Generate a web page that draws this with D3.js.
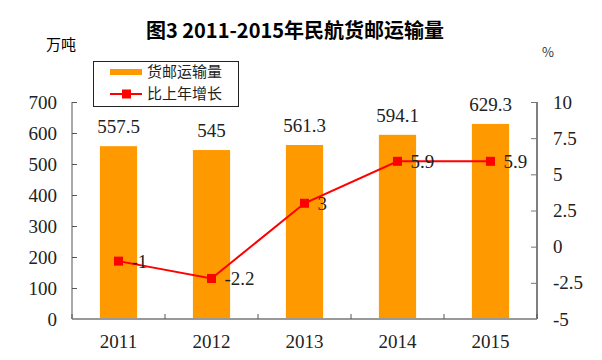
<!DOCTYPE html>
<html><head><meta charset="utf-8">
<script src="https://cdn.jsdelivr.net/npm/d3@7"></script>
<style>body{margin:0;background:#fff}svg{display:block}</style>
</head><body>
<script>
const categories = ["2011","2012","2013","2014","2015"];
const cargo = [557.5, 545, 561.3, 594.1, 629.3];
const growth = [-1, -2.2, 3, 5.9, 5.9];
const leftTicks = [0,100,200,300,400,500,600,700];
const rightTicks = [-5,-2.5,0,2.5,5,7.5,10];
const title = "图3 2011-2015年民航货邮运输量";
const seriesNames = ["货邮运输量","比上年增长"];

const W = 602, H = 360;
const M = {left:72, right:537, top:102, bottom:319};
const numFont = "'Liberation Serif','DejaVu Serif',serif";
const cjkFont = "'Noto Sans CJK SC','Noto Sans',sans-serif";

const svg = d3.select("body").append("svg").attr("width",W).attr("height",H);

const x = d3.scaleBand().domain(categories).range([M.left, M.right]).padding(0);
const yL = d3.scaleLinear().domain([0,700]).range([M.bottom, M.top]);
const yR = d3.scaleLinear().domain([-5,10]).range([M.bottom, M.top]);

// title
svg.append("text").attr("x",295).attr("y",38).attr("text-anchor","middle")
  .attr("font-family",cjkFont).attr("font-weight","bold").attr("font-size",20).attr("fill","#000")
  .text(title);
svg.append("text").attr("x",46).attr("y",50).attr("font-family",cjkFont).attr("font-size",15).text("万吨");
svg.append("text").attr("x",542).attr("y",57).attr("font-family",cjkFont).attr("font-size",13).attr("fill","#333").text("%");

// bars
const bw = x.bandwidth()*0.4;
svg.append("g").selectAll("rect").data(cargo).join("rect")
  .attr("x",(d,i)=>x(categories[i])+x.bandwidth()/2-bw/2)
  .attr("y",d=>yL(d)).attr("width",bw).attr("height",d=>yL(0)-yL(d))
  .attr("fill","#ff9900");

svg.append("g").selectAll("text").data(cargo).join("text")
  .attr("x",(d,i)=>x(categories[i])+x.bandwidth()/2)
  .attr("y",d=>yL(d)-13).attr("text-anchor","middle")
  .attr("font-family",numFont).attr("font-size",19).attr("fill","#222")
  .text(d=>String(d));

// left axis
const axL = svg.append("g").attr("transform",`translate(${M.left},0)`)
  .call(d3.axisLeft(yL).tickValues(leftTicks).tickSize(-5).tickPadding(15).tickFormat(d=>String(d)));
axL.select(".domain").attr("stroke","#555").attr("d",`M0,${M.top}V${M.bottom}`);
axL.selectAll(".tick line").attr("stroke","#555");
axL.selectAll("text").attr("font-family",numFont).attr("font-size",19).attr("fill","#222");

// right axis
const axR = svg.append("g").attr("transform",`translate(${M.right},0)`)
  .call(d3.axisRight(yR).tickValues(rightTicks).tickSize(-6).tickPadding(16).tickFormat(d=>String(d)));
axR.select(".domain").attr("stroke","#000").attr("d",`M0,${M.top}V${M.bottom}`);
axR.selectAll(".tick line").attr("stroke","#777");
axR.selectAll("text").attr("font-family",numFont).attr("font-size",19).attr("fill","#222");

// bottom axis
const axB = svg.append("g").attr("transform",`translate(0,${M.bottom})`)
  .call(d3.axisBottom(x).tickSize(0).tickPadding(16));
axB.select(".domain").attr("stroke","#999").attr("stroke-width",2).attr("d",`M${M.left},0H${M.right}`);
axB.selectAll("text").attr("font-family",numFont).attr("font-size",19).attr("fill","#222");
const bounds = categories.map(c=>x(c)).concat([x.range()[1]]);
axB.append("g").selectAll("line").data(bounds).join("line")
  .attr("x1",d=>d).attr("x2",d=>d).attr("y1",0).attr("y2",-5).attr("stroke","#555");

// line
const line = d3.line().x((d,i)=>x(categories[i])+x.bandwidth()/2).y(d=>yR(d));
svg.append("path").datum(growth).attr("d",line).attr("fill","none").attr("stroke","#ff0000").attr("stroke-width",2);
svg.append("g").selectAll("rect").data(growth).join("rect")
  .attr("x",(d,i)=>x(categories[i])+x.bandwidth()/2-4.5).attr("y",d=>yR(d)-4.5)
  .attr("width",9).attr("height",9).attr("fill","#ff0000");
svg.append("g").selectAll("text").data(growth).join("text")
  .attr("x",(d,i)=>x(categories[i])+x.bandwidth()/2+13).attr("y",d=>yR(d)).attr("dy","0.35em")
  .attr("font-family",numFont).attr("font-size",19).attr("fill","#222")
  .text(d=>String(d));

// legend
const lg = svg.append("g");
lg.append("rect").attr("x",93.5).attr("y",61.5).attr("width",145).attr("height",45)
  .attr("fill","#fff").attr("stroke","#222").attr("stroke-width",1);
lg.append("rect").attr("x",110).attr("y",69).attr("width",32).attr("height",6).attr("fill","#ff9900");
lg.append("line").attr("x1",110).attr("x2",142).attr("y1",94).attr("y2",94).attr("stroke","#ff0000").attr("stroke-width",2);
lg.append("rect").attr("x",122).attr("y",89.5).attr("width",9).attr("height",9).attr("fill","#ff0000");
lg.selectAll("text.l").data(seriesNames).join("text").attr("class","l")
  .attr("x",147).attr("y",(d,i)=>72+i*22).attr("dy","0.35em")
  .attr("font-family",cjkFont).attr("font-size",15).attr("fill","#222").text(d=>d);
</script>
</body></html>
